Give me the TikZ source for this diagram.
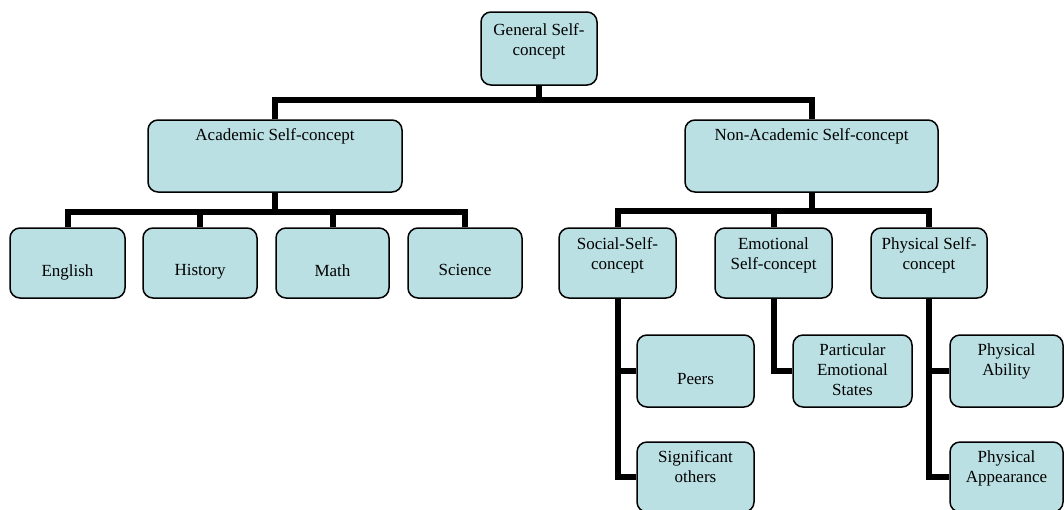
\documentclass[tikz,border=0pt]{standalone}
\usepackage{fontspec}
\setmainfont{Liberation Serif}
\definecolor{boxfill}{RGB}{187,224,227}
\tikzset{
  box/.style={draw=black, fill=boxfill, rounded corners=10pt, line width=1.5pt, inner sep=0pt},
  txt/.style={anchor=north, inner sep=0pt, align=center, font=\fontsize{17}{20}\selectfont},
  conn/.style={draw=black, line width=6pt, line join=miter}
}
\begin{document}
\begin{tikzpicture}[x=1pt, y=-1pt]
\useasboundingbox (0,0) rectangle (1064,509);
\clip (0,0) rectangle (1064,509);
% boxes
\node[box, minimum width=116pt, minimum height=73pt] (gen) at (539,48.5) {};
\node[box, minimum width=254pt, minimum height=72pt] (acad) at (275,156) {};
\node[box, minimum width=253pt, minimum height=72pt] (nonacad) at (811.5,156) {};
\node[box, minimum width=115pt, minimum height=70pt] (eng) at (67.5,263) {};
\node[box, minimum width=114pt, minimum height=70pt] (hist) at (200,263) {};
\node[box, minimum width=113pt, minimum height=70pt] (math) at (332.5,263) {};
\node[box, minimum width=114pt, minimum height=70pt] (sci) at (465,263) {};
\node[box, minimum width=117pt, minimum height=70pt] (soc) at (617.5,263) {};
\node[box, minimum width=117pt, minimum height=70pt] (emo) at (773.5,263) {};
\node[box, minimum width=116pt, minimum height=70pt] (phys) at (929,263) {};
\node[box, minimum width=117pt, minimum height=72pt] (peers) at (695.5,371) {};
\node[box, minimum width=117pt, minimum height=70pt] (sig) at (695.5,477) {};
\node[box, minimum width=119pt, minimum height=72pt] (part) at (852.5,371) {};
\node[box, minimum width=113pt, minimum height=72pt] (pab) at (1006.5,371) {};
\node[box, minimum width=113pt, minimum height=70pt] (pap) at (1006.5,477) {};
% texts
\node[txt] (gent) at (539,23) {General Self-\\concept};
\node[txt] (acadt) at (275,128) {Academic Self-concept};
\node[txt] (nonacadt) at (811.5,128) {Non-Academic Self-concept};
\node[txt] (engt) at (67.5,264) {English};
\node[txt] (histt) at (200,264) {History};
\node[txt] (matht) at (332.5,264) {Math};
\node[txt] (scit) at (465,264) {Science};
\node[txt] (soct) at (617.5,237) {Social-Self-\\concept};
\node[txt] (emot) at (773.5,237) {Emotional\\Self-concept};
\node[txt] (physt) at (929,237) {Physical Self-\\concept};
\node[txt] (peerst) at (695.5,373) {Peers};
\node[txt] (sigt) at (695.5,450) {Significant\\others};
\node[txt] (partt) at (852.5,343) {Particular\\Emotional\\States};
\node[txt] (pabt) at (1006.5,343) {Physical\\Ability};
\node[txt] (papt) at (1006.5,450) {Physical\\Appearance};
% connectors
\coordinate (b1) at (539,100);
\draw[conn] (gen.south) -- (b1);
\draw[conn] (acad.north) |- (b1) -| (nonacad.north);
\coordinate (b2) at (275,212);
\draw[conn] (acad.south) -- (b2);
\draw[conn] (eng.north) |- (b2) -| (sci.north);
\draw[conn] (hist.north) -- (hist.north |- b2);
\draw[conn] (math.north) -- (math.north |- b2);
\coordinate (b3) at (811.5,211);
\draw[conn] (nonacad.south) -- (b3);
\draw[conn] (soc.north) |- (b3) -| (phys.north);
\draw[conn] (emo.north) -- (emo.north |- b3);
\draw[conn] (soc.south) |- (peers.west);
\draw[conn] (soc.south) |- (sig.west);
\draw[conn] (emo.south) |- (part.west);
\draw[conn] (phys.south) |- (pab.west);
\draw[conn] (phys.south) |- (pap.west);
\end{tikzpicture}
\end{document}
